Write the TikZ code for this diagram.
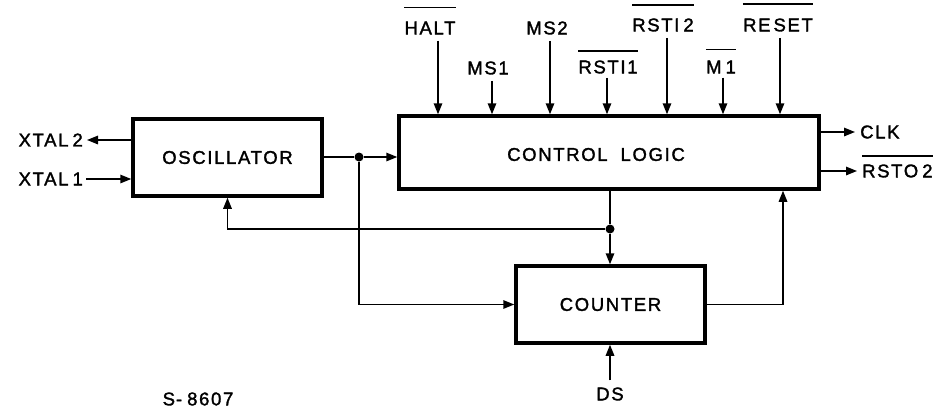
\documentclass[tikz,border=0pt]{standalone}
\usepackage{fontspec}
\setmainfont{Liberation Sans}[LetterSpace=9,FakeBold=1.6]
\usetikzlibrary{arrows.meta,calc}
\begin{document}
\begin{tikzpicture}[x=1pt,y=-1pt,
  blk/.style={draw,line width=3.5pt,inner sep=0pt,font=\fontsize{18.5}{18}\selectfont},
  lbl/.style={inner sep=0pt,font=\fontsize{18.5}{18}\selectfont},
  conn/.style={line width=1.5pt},
  arr/.style={conn,-{Triangle[length=11pt,width=8.5pt]}},
  ovl/.style={line width=1.6pt},
  jdot/.style={circle,fill,inner sep=0pt,minimum size=9pt}]
\useasboundingbox (0,0) rectangle (940,408);
% blocks
\node[blk,minimum width=189pt,minimum height=77pt] (osc) at (227.5,157.5) {OSCILLATOR};
\node[blk,minimum width=420pt,minimum height=73pt] (ctrl) at (609,152.5) {};
\node[lbl] (ctrlt) at (596,154.5) {CONTROL\hspace{0.7em}LOGIC};
\node[blk,minimum width=189pt,minimum height=77pt] (cnt) at (610.5,304.5) {COUNTER};
% xtal
\node[lbl,anchor=east] (x2) at (83,140) {XTAL\kern4pt2};
\node[lbl,anchor=east] (x1) at (83,179) {XTAL\kern4pt1};
\draw[arr] (osc.west |- x2) -- ($(x2.east)+(4,0)$);
\draw[arr] ($(x1.east)+(3,0)$) -- (osc.west |- x1);
% oscillator output
\node[jdot] (d1) at (359,157) {};
\draw[conn] (osc.east |- d1) -- (d1);
\draw[arr] (d1) -- (ctrl.west |- d1);
\draw[arr] (d1) |- (cnt.west);
% control logic to counter, feedback to oscillator
\node[jdot] (d2) at (610,229) {};
\draw[conn] (ctrl.south -| d2) -- (d2);
\draw[arr] (d2) -- (cnt.north -| d2);
\draw[arr] (d2) -| (osc.south);
% counter output to control logic
\coordinate (c783) at (783,0);
\draw[arr] (cnt.east) -| (ctrl.south -| c783);
% DS
\node[lbl] (ds) at (610,394) {DS};
\draw[arr] ($(ds.north)+(0,-7)$) -- (cnt.south -| ds);
% outputs
\node[lbl,anchor=west] (clk) at (860,132) {CLK};
\node[lbl,anchor=west] (rsto) at (862,171) {RSTO\kern4pt2};
\draw[arr] (ctrl.east |- clk) -- ($(clk.west)+(-5,0)$);
\draw[arr] (ctrl.east |- rsto) -- ($(rsto.west)+(-5,0)$);
\draw[ovl] ($(rsto.north west)+(0,-8)$) -- ($(rsto.north east)+(0,-8)$);
% top inputs
\node[lbl] (halt) at (430,28) {HALT};
\node[lbl] (ms1) at (488,68) {MS1};
\node[lbl] (ms2) at (547,28) {MS2};
\node[lbl] (rsti1) at (608,67) {RSTI1};
\node[lbl] (rsti2) at (663,25) {RSTI\kern4pt2};
\node[lbl] (m1) at (721,67) {M\kern4pt1};
\node[lbl] (reset) at (778,25) {RE\kern3pt SET};
\coordinate (iH) at (438,0);
\coordinate (i1) at (492,0);
\coordinate (i2) at (550,0);
\coordinate (i3) at (607,0);
\coordinate (i4) at (667,0);
\coordinate (i5) at (723,0);
\coordinate (i6) at (780,0);
\draw[arr] ($(halt.south -| iH)+(0,6)$) -- (ctrl.north -| iH);
\draw[arr] ($(ms1.south -| i1)+(0,6)$) -- (ctrl.north -| i1);
\draw[arr] ($(ms2.south -| i2)+(0,6)$) -- (ctrl.north -| i2);
\draw[arr] ($(rsti1.south -| i3)+(0,4)$) -- (ctrl.north -| i3);
\draw[arr] ($(rsti2.south -| i4)+(0,6)$) -- (ctrl.north -| i4);
\draw[arr] ($(m1.south -| i5)+(0,4)$) -- (ctrl.north -| i5);
\draw[arr] ($(reset.south -| i6)+(0,6)$) -- (ctrl.north -| i6);
\draw[ovl] ($(halt.north west)+(0,-14)$) -- ($(halt.north east)+(0,-14)$);
\draw[ovl] ($(rsti1.north west)+(0,-9)$) -- ($(rsti1.north east)+(0,-9)$);
\draw[ovl] ($(rsti2.north west)+(0,-13)$) -- ($(rsti2.north east)+(0,-13)$);
\draw[ovl] ($(m1.north west)+(0,-11)$) -- ($(m1.north east)+(0,-11)$);
\draw[ovl] ($(reset.north west)+(0,-14)$) -- ($(reset.north east)+(0,-14)$);
% figure code
\node[lbl] (code) at (198,399) {S\kern1pt-\kern5pt8607};
\end{tikzpicture}
\end{document}
